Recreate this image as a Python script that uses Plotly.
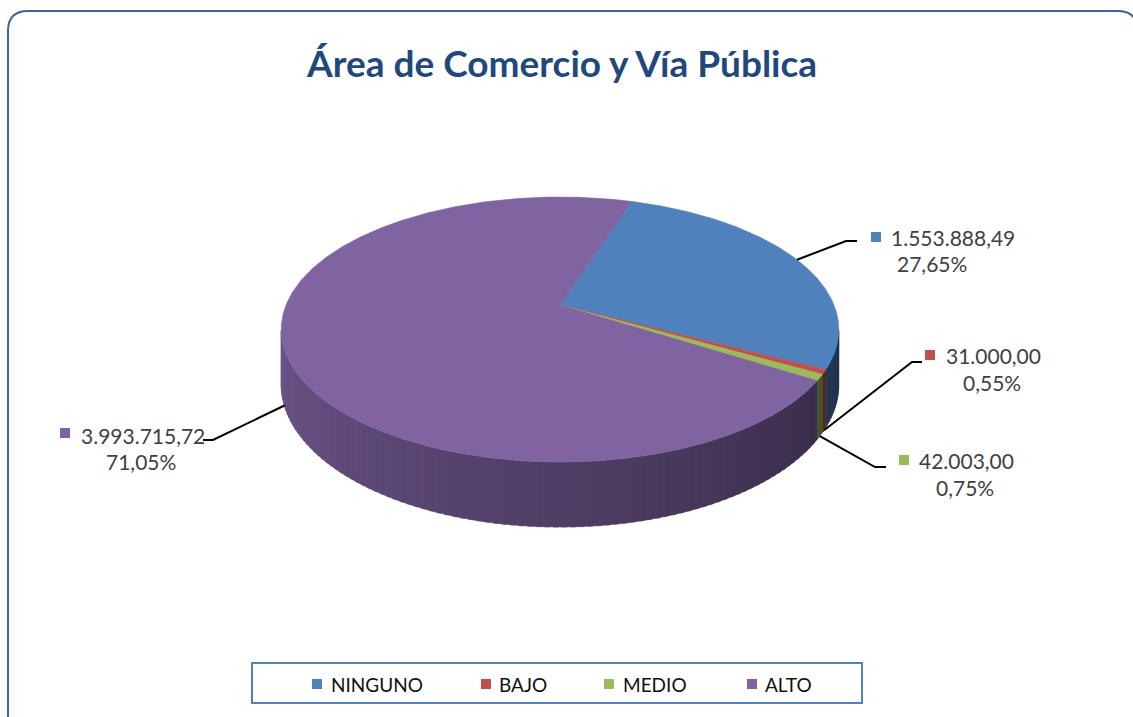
import numpy as np
import plotly.graph_objects as go

# ---------------- data ----------------
categories = ["NINGUNO", "BAJO", "MEDIO", "ALTO"]
values = [1553888.49, 31000.00, 42003.00, 3993715.72]
colors = ["#4F81BD", "#C0504D", "#9BBB59", "#8064A2"]
title = "Área de Comercio y Vía Pública"

# ---------------- layout constants (geometry / style) ----------------
W, H = 1133, 717
CX, CY = 560, 305          # pie apex (pixels)
RX, RY = 274, 128          # ellipse radii
PERSP = 0.185              # perspective strength
DEPTH = 53                 # side wall height
START = 18.0               # first slice angle (deg, clockwise from 12 o'clock)
FONT = "Lato"
TXT = "#404040"


def fmt_es(v):
    s = f"{v:,.2f}"
    return s.replace(",", "X").replace(".", ",").replace("X", ".")


def fmt_pct(p):
    return f"{p:.2f}".replace(".", ",") + "%"


def rim(theta_deg, z=0.0):
    t = np.radians(theta_deg)
    u = np.sin(t)
    v = np.cos(t)
    s = 1.0 / (1.0 + PERSP * v)
    return CX + RX * u * s, CY - RY * v * s + z * DEPTH * s


def shade(hexc, f):
    h = hexc.lstrip("#")
    r, g, b = (int(h[i:i + 2], 16) for i in (0, 2, 4))
    return "rgb(%d,%d,%d)" % (r * f, g * f, b * f)


vals = np.array(values, dtype=float)
total = vals.sum()
fracs = vals / total
ends = START + np.cumsum(fracs) * 360.0
starts = np.concatenate([[START], ends[:-1]])
mids = (starts + ends) / 2

# silhouette angles of the side wall
grid = np.linspace(0, 360, 3601)
gx, _ = rim(grid)
thR = grid[:1801][np.argmax(gx[:1801])]
thL = grid[1800:][np.argmin(gx[1800:])]

fig = go.Figure()

# ---------------- side walls ----------------
for i in range(len(values)):
    for off in (0.0, 360.0, -360.0):
        a0 = max(starts[i] + off, thR)
        a1 = min(ends[i] + off, thL)
        if a1 <= a0:
            continue
        n = max(1, int(np.ceil((a1 - a0) / 1.5)))
        edges = np.linspace(a0, a1, n + 1)
        for k in range(n):
            e0 = edges[k]
            e1 = min(edges[k + 1] + 0.8, a1) if k < n - 1 else edges[k + 1]
            th = np.linspace(e0, e1, 6)
            xt, yt = rim(th, 0)
            xb, yb = rim(th[::-1], 1)
            xs = np.concatenate([xt, xb, xt[:1]])
            ys = np.concatenate([yt, yb, yt[:1]])
            m = (edges[k] + edges[k + 1]) / 2
            f = float(np.clip(0.37 + 0.51 * (m - 90) / 180.0, 0.3, 0.9))
            c = shade(colors[i], f)
            fig.add_trace(go.Scatter(x=xs, y=ys, mode="lines", fill="toself",
                                     fillcolor=c, line=dict(color=c, width=0.5),
                                     hoverinfo="skip", showlegend=False))

# ---------------- top faces ----------------
for i in range(len(values)):
    th = np.linspace(starts[i], ends[i], max(3, int((ends[i] - starts[i]) * 2)))
    xr, yr = rim(th, 0)
    xs = np.concatenate([[CX], xr, [CX]])
    ys = np.concatenate([[CY], yr, [CY]])
    fig.add_trace(go.Scatter(x=xs, y=ys, mode="lines", fill="toself",
                             fillcolor=colors[i], line=dict(color=colors[i], width=0.6),
                             name=categories[i], hoverinfo="name", showlegend=False))

# ---------------- data labels with leader lines ----------------
label_pos = [
    dict(z=0.0, elbow=(846, 241), end=(857, 241), sq=(876, 237), x1=889, x2=932, y1=237, y2=263),
    dict(z=1.0, elbow=(912, 362), end=(922, 362), sq=(930, 355), x1=944, x2=992, y1=355, y2=382),
    dict(z=1.0, elbow=(875, 467), end=(886, 467), sq=(904, 460), x1=917, x2=965, y1=460, y2=487),
    dict(z=0.95, elbow=(213, 440), end=(203, 440), sq=(65, 433), x1=79, x2=141, y1=435, y2=461),
]

for i, lp in enumerate(label_pos):
    ax, ay = rim(mids[i], lp["z"])
    fig.add_trace(go.Scatter(x=[ax, lp["elbow"][0], lp["end"][0]],
                             y=[ay, lp["elbow"][1], lp["end"][1]],
                             mode="lines", line=dict(color="black", width=2),
                             hoverinfo="skip", showlegend=False))
    fig.add_trace(go.Scatter(x=[lp["sq"][0]], y=[lp["sq"][1]], mode="markers",
                             marker=dict(symbol="square", size=10, color=colors[i]),
                             hoverinfo="skip", showlegend=False))
    fig.add_annotation(x=lp["x1"], y=lp["y1"], text=fmt_es(values[i]), showarrow=False,
                       xanchor="left", yanchor="middle", xref="x", yref="y",
                       font=dict(family=FONT, size=21, color=TXT))
    fig.add_annotation(x=lp["x2"], y=lp["y2"], text=fmt_pct(fracs[i] * 100), showarrow=False,
                       xanchor="center", yanchor="middle", xref="x", yref="y",
                       font=dict(family=FONT, size=21, color=TXT))

# ---------------- legend (custom, boxed) ----------------
leg_sq_x = [317, 486, 609, 752]
leg_tx_x = [329, 497, 621, 763]
LEG_Y = 684
fig.add_trace(go.Scatter(x=leg_sq_x, y=[LEG_Y] * 4, mode="markers",
                         marker=dict(symbol="square", size=10, color=colors),
                         hoverinfo="skip", showlegend=False))
for i, c in enumerate(categories):
    fig.add_annotation(x=leg_tx_x[i], y=LEG_Y, text=c, showarrow=False,
                       xanchor="left", yanchor="middle", xref="x", yref="y",
                       font=dict(family=FONT, size=19, color="#111111"))

shapes = [
    dict(type="rect", xref="x", yref="y", x0=252, y0=663, x1=862, y1=703,
         line=dict(color="#4F81BD", width=2), fillcolor="rgba(0,0,0,0)", layer="below"),
    dict(type="path", xref="x", yref="y",
         path="M 8 740 L 8 31 Q 8 11 28 11 L 1118 11 Q 1136 11 1138 29 L 1140 740",
         line=dict(color="#3F6298", width=2), layer="below"),
]

fig.add_annotation(x=561, y=62, text="<b>" + title + "</b>", showarrow=False,
                   xanchor="center", yanchor="middle", xref="x", yref="y",
                   font=dict(family=FONT, size=37, color="#1F497D"))

fig.update_layout(
    width=W, height=H, margin=dict(l=0, r=0, t=0, b=0),
    paper_bgcolor="white", plot_bgcolor="white", showlegend=False,
    xaxis=dict(range=[0, W], visible=False, fixedrange=True),
    yaxis=dict(range=[H, 0], visible=False, fixedrange=True),
    shapes=shapes,
)

fig.write_html("out.html", config={"displayModeBar": False},
               post_script="document.body.style.margin='0';document.body.style.overflow='hidden';")
